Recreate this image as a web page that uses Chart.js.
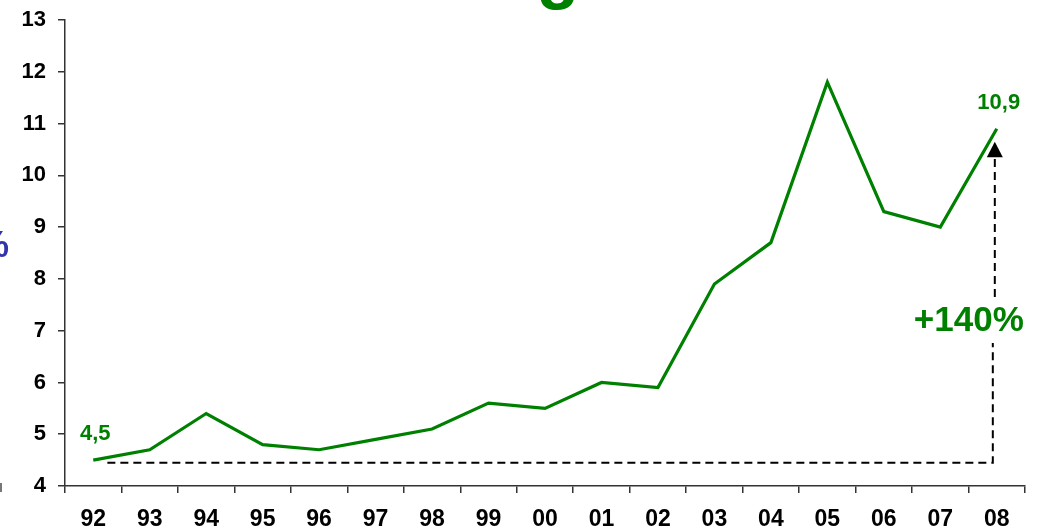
<!DOCTYPE html>
<html>
<head>
<meta charset="utf-8">
<script src="https://cdn.jsdelivr.net/npm/chart.js@4.4.1/dist/chart.umd.min.js"></script>
<style>
  html, body { margin: 0; padding: 0; background: #fff; }
  canvas { display: block; }
</style>
</head>
<body>
<canvas id="c" width="1044" height="531"></canvas>
<script>
// ---- data ----
const years = ['92','93','94','95','96','97','98','99','00','01','02','03','04','05','06','07','08'];
const values = [4.5, 4.7, 5.4, 4.8, 4.7, 4.9, 5.1, 5.6, 5.5, 6.0, 5.9, 7.9, 8.7, 11.8, 9.3, 9.0, 10.9];
const yTicks = [4, 5, 6, 7, 8, 9, 10, 11, 12, 13];
const pointLabels = [{ index: 0, text: '4,5' }, { index: 16, text: '10,9' }];
const growthLabel = '+140%';
// growth annotation in data space (category index, value)
const baseValue = 4.45;
const dashFromIndex = 0.25;
const dashToIndex = 15.93;
const arrowTipValue = 10.65;
const arrowBaseValue = 10.35;
const textGapValues = [6.76, 7.65];

const GREEN = '#008000';
const FONT = 'Arial, "Liberation Sans", sans-serif';

const annotations = {
  id: 'annotations',
  afterDatasetsDraw(chart) {
    const ctx = chart.ctx;
    const xs = chart.scales.x, ys = chart.scales.y;
    ctx.save();
    // dashed growth line
    const yb = ys.getPixelForValue(baseValue);
    const x0 = xs.getPixelForValue(dashFromIndex);
    const x1 = xs.getPixelForValue(dashToIndex);
    ctx.strokeStyle = '#000';
    ctx.lineWidth = 2;
    ctx.setLineDash([8, 5]);
    ctx.beginPath();
    ctx.moveTo(x0, yb);
    ctx.lineTo(x1, yb);
    ctx.lineTo(x1, ys.getPixelForValue(textGapValues[0]));
    ctx.moveTo(x1 + 2, ys.getPixelForValue(textGapValues[1]));
    ctx.lineTo(x1 + 2, ys.getPixelForValue(arrowBaseValue));
    ctx.stroke();
    ctx.setLineDash([]);
    // arrow head
    const yt = ys.getPixelForValue(arrowTipValue);
    const ya = ys.getPixelForValue(arrowBaseValue);
    const ax = x1 + 2;
    ctx.fillStyle = '#000';
    ctx.beginPath();
    ctx.moveTo(ax, yt);
    ctx.lineTo(ax - 8, ya);
    ctx.lineTo(ax + 8, ya);
    ctx.closePath();
    ctx.fill();
    // growth text
    ctx.fillStyle = GREEN;
    ctx.font = 'bold 35px ' + FONT;
    ctx.textAlign = 'center';
    ctx.textBaseline = 'alphabetic';
    ctx.fillText(growthLabel, x1 - 24, 331);
    // point labels
    ctx.font = 'bold 22px ' + FONT;
    pointLabels.forEach(p => {
      const px = xs.getPixelForValue(p.index);
      const py = ys.getPixelForValue(values[p.index]);
      ctx.fillText(p.text, px + 2, py - 20);
    });
    // cropped title glyph at top
    ctx.font = 'bold 70px ' + FONT;
    ctx.fillText('g', 558, -5);
    // cropped blue unit fragment at left
    ctx.fillStyle = '#3333aa';
    ctx.font = 'bold 36px ' + FONT;
    ctx.textAlign = 'right';
    ctx.fillText('%', 9, 257);
    // small mark bottom-left
    ctx.strokeStyle = '#777';
    ctx.lineWidth = 2;
    ctx.beginPath();
    ctx.moveTo(1, 483);
    ctx.lineTo(1, 492);
    ctx.stroke();
    ctx.restore();
  }
};

new Chart(document.getElementById('c'), {
  type: 'line',
  data: {
    labels: years,
    datasets: [{
      data: values,
      borderColor: GREEN,
      borderWidth: 3.2,
      pointRadius: 0,
      tension: 0,
      fill: false
    }]
  },
  options: {
    responsive: false,
    devicePixelRatio: 1,
    animation: false,
    layout: { padding: { top: 20, right: 19, left: 0, bottom: 0 } },
    plugins: { legend: { display: false }, tooltip: { enabled: false }, title: { display: false } },
    scales: {
      x: {
        type: 'category',
        offset: true,
        grid: { offset: true, drawOnChartArea: false, tickLength: 7, color: '#333', lineWidth: 1.5 },
        border: { display: true, color: '#333', width: 1.5 },
        ticks: { color: '#000', font: { family: FONT, size: 23, weight: 'bold' }, padding: 13, maxRotation: 0, autoSkip: false },
        afterFit(scale) { scale.height = 45; scale.paddingLeft = 0; scale.paddingRight = 0; }
      },
      y: {
        min: 4,
        max: 13,
        afterBuildTicks(scale) { scale.ticks = yTicks.map(v => ({ value: v })); },
        grid: { drawOnChartArea: false, tickLength: 7, color: '#333', lineWidth: 1.5 },
        border: { display: true, color: '#333', width: 1.5 },
        ticks: { color: '#000', font: { family: FONT, size: 22, weight: 'bold' }, padding: 12 },
        afterFit(scale) { scale.width = 65; scale.paddingTop = 0; scale.paddingBottom = 0; }
      }
    }
  },
  plugins: [annotations]
});
</script>
</body>
</html>
